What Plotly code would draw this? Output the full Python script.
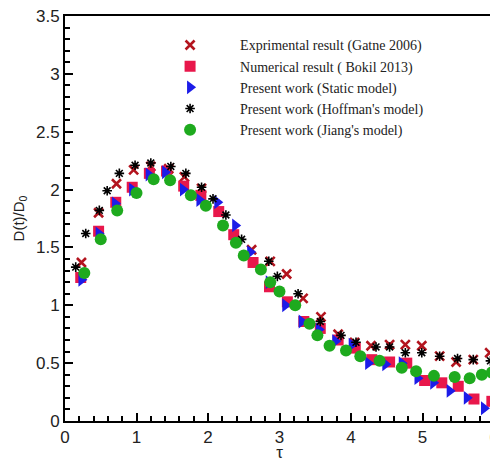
import plotly.graph_objects as go

# ---- data ----
exp_x = [0.23, 0.47, 0.72, 0.96, 1.20, 1.45, 1.67, 1.91, 2.61, 2.87, 3.10, 3.33, 3.58,
         3.82, 4.05, 4.28, 4.54, 4.76, 4.99, 5.24, 5.47, 5.71, 5.94]
exp_y = [1.37, 1.80, 2.05, 2.17, 2.20, 2.18, 2.11, 2.01, 1.48, 1.38, 1.27, 1.06, 0.90,
         0.75, 0.68, 0.65, 0.66, 0.66, 0.65, 0.56, 0.51, 0.53, 0.59]

num_x = [0.22, 0.47, 0.71, 0.94, 1.18, 1.42, 1.66, 1.90, 2.15, 2.36, 2.63, 2.86, 3.11,
         3.34, 3.57, 3.82, 4.06, 4.29, 4.54, 4.78, 5.03, 5.27, 5.50, 5.72, 5.97]
num_y = [1.24, 1.64, 1.89, 2.02, 2.14, 2.16, 2.03, 1.95, 1.81, 1.61, 1.37, 1.16, 1.03,
         0.86, 0.80, 0.70, 0.63, 0.53, 0.51, 0.50, 0.35, 0.33, 0.30, 0.19, 0.17]

sta_x = [0.23, 0.47, 0.70, 0.94, 1.17, 1.40, 1.65, 1.88, 2.13, 2.38, 2.59, 2.85, 3.08,
         3.31, 3.55, 3.78, 4.01, 4.24, 4.48, 4.71, 4.93, 5.15, 5.38, 5.62, 5.86]
sta_y = [1.22, 1.62, 1.88, 2.00, 2.13, 2.15, 2.00, 1.91, 1.89, 1.69, 1.46, 1.20, 1.00,
         0.86, 0.79, 0.69, 0.66, 0.50, 0.49, 0.50, 0.37, 0.33, 0.26, 0.20, 0.11]

hof_x = [0.15, 0.29, 0.48, 0.59, 0.76, 0.98, 1.20, 1.48, 1.69, 1.91, 2.07, 2.25, 2.47,
         2.85, 2.97, 3.26, 3.57, 3.86, 4.07, 4.35, 4.54, 4.76, 4.99, 5.24, 5.49, 5.71, 5.95]
hof_y = [1.33, 1.62, 1.82, 1.99, 2.14, 2.21, 2.23, 2.20, 2.14, 2.02, 1.92, 1.78, 1.57,
         1.38, 1.25, 1.10, 0.86, 0.74, 0.68, 0.64, 0.64, 0.59, 0.59, 0.56, 0.54, 0.53, 0.52]

jia_x = [0.27, 0.50, 0.73, 1.00, 1.24, 1.47, 1.76, 1.97, 2.21, 2.39, 2.50, 2.74, 2.87,
         3.00, 3.22, 3.42, 3.53, 3.70, 3.93, 4.13, 4.40, 4.71, 4.91, 5.16, 5.45, 5.66, 5.83, 5.97]
jia_y = [1.28, 1.57, 1.82, 1.97, 2.09, 2.08, 1.95, 1.86, 1.69, 1.54, 1.43, 1.31, 1.20,
         1.12, 1.00, 0.84, 0.74, 0.65, 0.61, 0.56, 0.52, 0.46, 0.43, 0.39, 0.38, 0.37, 0.40, 0.42]

names = ["Exprimental result (Gatne 2006)",
         "Numerical result ( Bokil 2013)",
         "Present work (Static model)",
         "Present work (Hoffman's model)",
         "Present work (Jiang's model)"]

x_ticks = [0, 1, 2, 3, 4, 5, 6]
y_ticks = [0, 0.5, 1, 1.5, 2, 2.5, 3, 3.5]
y_tick_text = ["0", "0.5", "1", "1.5", "2", "2.5", "3", "3.5"]

fig = go.Figure()
fig.add_trace(go.Scatter(x=exp_x, y=exp_y, mode="markers", name=names[0],
                         marker=dict(symbol="x-thin-open", size=9, color="#b3141e",
                                     line=dict(width=2.6, color="#b3141e"))))
fig.add_trace(go.Scatter(x=num_x, y=num_y, mode="markers", name=names[1],
                         marker=dict(symbol="square", size=11, color="#e8174b",
                                     line=dict(width=0))))
fig.add_trace(go.Scatter(x=sta_x, y=sta_y, mode="markers", name=names[2],
                         marker=dict(symbol="triangle-right", size=12, color="#1c1ce8",
                                     line=dict(width=0))))
fig.add_trace(go.Scatter(x=hof_x, y=hof_y, mode="markers", name=names[3],
                         marker=dict(symbol="asterisk-open", size=8, color="black",
                                     line=dict(width=1.6, color="black"))))
fig.add_trace(go.Scatter(x=jia_x, y=jia_y, mode="markers", name=names[4],
                         marker=dict(symbol="circle", size=12, color="#1eaa1e",
                                     line=dict(width=0))))

axis_common = dict(
    showline=True, linecolor="black", linewidth=2, mirror=True,
    ticks="inside", tickcolor="black", tickwidth=2, ticklen=8,
    showgrid=False, zeroline=False, automargin=False,
    ticklabeloverflow="allow",
    tickfont=dict(family="Liberation Sans, Arial", size=17, color="#222"),
)

fig.update_xaxes(range=[0, 6], tickmode="array", tickvals=x_ticks,
                 ticktext=[str(v) for v in x_ticks],
                 minor=dict(dtick=0.2, ticks="inside", ticklen=5, tickwidth=2,
                            tickcolor="black", showgrid=False),
                 title=dict(text="τ", font=dict(family="Liberation Sans, Arial", size=17,
                                                color="#222"), standoff=2),
                 **axis_common)
fig.update_yaxes(range=[0, 3.5], tickmode="array", tickvals=y_ticks,
                 ticktext=y_tick_text,
                 minor=dict(dtick=0.1, ticks="inside", ticklen=5, tickwidth=2,
                            tickcolor="black", showgrid=False),
                 title=dict(text="D(t)/D<sub>0</sub>",
                            font=dict(family="Liberation Sans, Arial", size=15, color="#222"),
                            standoff=8),
                 **axis_common)

# the page body adds an 8px offset, so the figure is sized/margined to compensate
fig.update_layout(
    width=490, height=454,
    margin=dict(l=57, r=4, t=8, b=41),
    plot_bgcolor="white", paper_bgcolor="white",
    legend=dict(x=0.175, y=0.967, xanchor="left", yanchor="top",
                bgcolor="rgba(0,0,0,0)", borderwidth=0,
                itemwidth=90,
                font=dict(family="Liberation Serif, Times New Roman", size=14, color="#222")),
)

fig.write_html("out.html")
